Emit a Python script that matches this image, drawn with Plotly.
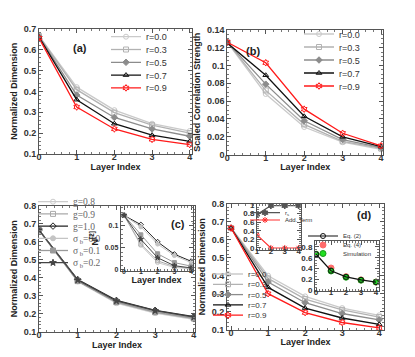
import plotly.graph_objects as go

W, H = 415, 357

layers = [0, 1, 2, 3, 4]
layers_sub = [1, 2, 3, 4]
r_labels = ["r=0.0", "r=0.3", "r=0.5", "r=0.7", "r=0.9"]

# (a) normalized dimension
dim_a = [
    [0.665, 0.420, 0.310, 0.245, 0.210],
    [0.665, 0.408, 0.298, 0.238, 0.200],
    [0.662, 0.382, 0.275, 0.220, 0.185],
    [0.660, 0.360, 0.245, 0.190, 0.160],
    [0.655, 0.325, 0.220, 0.170, 0.145],
]
# (b) scaled correlation strength
corr_b = [
    [0.126, 0.068, 0.031, 0.014, 0.006],
    [0.126, 0.072, 0.034, 0.015, 0.007],
    [0.126, 0.079, 0.038, 0.017, 0.008],
    [0.125, 0.089, 0.043, 0.020, 0.009],
    [0.126, 0.103, 0.051, 0.024, 0.010],
]
# (c) gain / bias variants
c_labels = ["g=0.8", "g=0.9", "g=1.0", "σ<sub> b</sub>=0.0", "σ<sub> b</sub>=0.1", "σ<sub> b</sub>=0.2"]
dim_c = [
    [0.665, 0.380, 0.260, 0.205, 0.170],
    [0.665, 0.383, 0.265, 0.210, 0.175],
    [0.665, 0.390, 0.275, 0.220, 0.185],
    [0.665, 0.385, 0.268, 0.212, 0.178],
    [0.665, 0.382, 0.266, 0.210, 0.176],
    [0.665, 0.388, 0.272, 0.218, 0.183],
]
n2_c = [
    [0.123, 0.055, 0.016, 0.005, 0.002],
    [0.123, 0.058, 0.020, 0.007, 0.003],
    [0.123, 0.102, 0.063, 0.035, 0.019],
    [0.123, 0.097, 0.058, 0.032, 0.016],
    [0.123, 0.079, 0.036, 0.016, 0.008],
    [0.123, 0.069, 0.027, 0.009, 0.004],
]
# (d) normalized dimension
dim_d = [
    [0.665, 0.400, 0.285, 0.220, 0.180],
    [0.665, 0.385, 0.270, 0.210, 0.170],
    [0.665, 0.365, 0.250, 0.190, 0.155],
    [0.665, 0.335, 0.220, 0.165, 0.130],
    [0.665, 0.300, 0.195, 0.140, 0.110],
]
r_s = [0.78, 0.98, 0.98, 0.98]
add_term = [0.30, 0.0, 0.0, 0.0]
eq2 = [0.665, 0.360, 0.245, 0.190, 0.150]
eq4 = [0.665, 0.410, 0.250, 0.190, 0.150]
sim = [0.665, 0.355, 0.240, 0.185, 0.150]

r_styles = [
    dict(color="#cacaca", symbol="circle-open"),
    dict(color="#b2b2b2", symbol="square-open"),
    dict(color="#8c8c8c", symbol="diamond"),
    dict(color="#111111", symbol="triangle-up-open"),
    dict(color="#ff1a1a", symbol="hexagram-open"),
]
c_styles = [
    dict(color="#cccccc", symbol="circle-open"),
    dict(color="#aaaaaa", symbol="square-open"),
    dict(color="#222222", symbol="diamond-open"),
    dict(color="#c4c4c4", symbol="circle"),
    dict(color="#9a9a9a", symbol="square"),
    dict(color="#444444", symbol="star"),
]

fig = go.Figure()
legends = {}
nleg = [0]


def new_legend(tx, ty, size=9, family="Liberation Sans", color="#333333"):
    nleg[0] += 1
    key = "legend" if nleg[0] == 1 else f"legend{nleg[0]}"
    legends[key] = dict(x=(tx - 40) / W, y=1 - (ty - 8) / H, xanchor="left", yanchor="middle",
                        bgcolor="rgba(0,0,0,0)", borderwidth=0, itemwidth=30,
                        font=dict(size=size, family=family, color=color))
    return key


def add_series(x, y, ax, name, style, leg, size=5, width=1.3, mode="lines+markers"):
    fig.add_trace(go.Scatter(
        x=x, y=y, xaxis=f"x{ax}", yaxis=f"y{ax}", mode=mode, name=name,
        line=dict(color=style["color"], width=width),
        marker=dict(symbol=style["symbol"], size=size, color=style["color"],
                    line=dict(color=style.get("edge", style["color"]), width=1)),
        legend=leg, showlegend=leg is not None,
    ))


# (a)
for i in range(5):
    add_series(layers, dim_a[i], 1, r_labels[i], r_styles[i],
               new_legend(138, 36.7 + 12.8 * i))
# (b)
for i in range(5):
    add_series(layers, corr_b[i], 2, r_labels[i], r_styles[i],
               new_legend(331, 34 + 13 * i))
# (c)
for i in range(6):
    add_series(layers, dim_c[i], 3, c_labels[i], c_styles[i],
               new_legend(65, 201.7 + 12.2 * i, size=9.5, family="Liberation Serif", color="#666666"))
# (d)
for i in range(5):
    add_series(layers, dim_d[i], 4, r_labels[i], r_styles[i],
               new_legend(240, 274 + 10.3 * i, size=8))
# (c) inset
for i in range(6):
    add_series(layers, n2_c[i], 5, c_labels[i], c_styles[i], None, size=4, width=1)
# (d) inset 1
add_series(layers_sub, r_s, 6, "r<sub>s</sub>", dict(color="#555555", symbol="hexagram"),
           new_legend(277, 212.7, size=6), size=5, width=1.2)
add_series(layers_sub, add_term, 6, "Add. Term", dict(color="#ff3030", symbol="asterisk-open"),
           new_legend(277, 220, size=6), size=5, width=1.2)
# (d) inset 2
add_series(layers, eq4, 7, "Eq. (4)", dict(color="#ff6b6b", symbol="circle"),
           new_legend(335, 245, size=6), size=6, mode="markers")
add_series(layers, sim, 7, "Simulation", dict(color="#22e022", symbol="circle", edge="#1a9a1a"),
           new_legend(335, 253.5, size=6), size=6, mode="markers")
add_series(layers, eq2, 7, "Eq. (2)", dict(color="#111111", symbol="circle-open"),
           new_legend(335, 236, size=6), size=5, width=1.2)

tick_font = dict(family="Liberation Sans", size=9, color="#333333", weight="bold")
title_font = dict(family="Liberation Sans", size=9, color="#222222", weight="bold")


def axis(px0, px1, rng, dtick, minor, anchor, title=None, horiz=True, tsize=9):
    if horiz:
        dom = [px0 / W, px1 / W]
    else:
        dom = [1 - px1 / H, 1 - px0 / H]
    return dict(domain=dom, range=rng, dtick=dtick, tick0=0, anchor=anchor,
                showline=True, linecolor="#555555", linewidth=1, mirror="allticks",
                ticks="inside", ticklen=4, tickcolor="#555555",
                ticklabelstandoff=-6 if horiz else 0,
                minor=dict(dtick=minor, ticks="inside", ticklen=2, tickcolor="#777777"),
                showgrid=False, zeroline=False, automargin=False,
                tickfont=dict(tick_font, size=tsize),
                title=dict(text=title, font=title_font, standoff=2 if horiz else 4) if title else None)


layout_axes = dict(
    xaxis=axis(31, 184, [0, 4.06], 1, 0.2, "y", "Layer Index"),
    yaxis=axis(20.7, 146, [0.1, 0.7], 0.1, 0.02, "x", "Normalized Dimension", horiz=False),
    xaxis2=axis(219.3, 375, [0, 4.05], 1, 0.2, "y2", "Layer Index"),
    yaxis2=axis(21.7, 146.7, [0, 0.14], 0.02, 0.005, "x2", "Scaled Correlation Strength", horiz=False),
    xaxis3=axis(31, 187, [0, 4.03], 1, 0.2, "y3", "Layer Index"),
    yaxis3=axis(197.7, 324, [0.1, 0.8], 0.1, 0.02, "x3", "Normalized Dimension", horiz=False),
    xaxis4=axis(219, 376, [-0.11, 4.13], 1, 0.2, "y4", "Layer Index"),
    yaxis4=axis(195.7, 321.7, [0.1, 0.8], 0.1, 0.02, "x4", "Normalized Dimension", horiz=False),
    xaxis5=axis(112.7, 184.5, [-0.2, 4.08], 1, 0.2, "y5", "Layer Index", tsize=7),
    yaxis5=axis(197.7, 263, [-0.003, 0.145], 0.05, 0.01, "x5", "<b>N</b><sup>[2]</sup>", horiz=False, tsize=7),
    xaxis6=axis(249, 292.7, [1, 4.15], 1, 0.2, "y6", tsize=8),
    yaxis6=axis(196, 241.7, [-0.04, 1.02], 0.2, 0.05, "x6", horiz=False, tsize=8),
    xaxis7=axis(307, 370.7, [-0.07, 4.18], 1, 0.2, "y7", tsize=8),
    yaxis7=axis(233, 282.7, [-0.01, 0.91], 0.2, 0.05, "x7", horiz=False, tsize=8),
)

fig.update_layout(**layout_axes)
fig.update_layout(**legends)

panel_labels = [("(a)", 63, 32), ("(b)", 245, 35), ("(c)", 170, 216), ("(d)", 365, 207)]
for text, px, py in panel_labels:
    fig.add_annotation(text=f"<b>{text}</b>", x=px / W, y=1 - py / H, xref="paper", yref="paper",
                       showarrow=False, font=dict(family="Liberation Sans", size=11, color="#222222"))

fig.update_layout(
    width=W, height=H,
    margin=dict(l=0, r=0, t=0, b=0),
    paper_bgcolor="white", plot_bgcolor="white",
    font=dict(family="Liberation Sans", color="#333333"),
)

fig.write_html("out.html")
